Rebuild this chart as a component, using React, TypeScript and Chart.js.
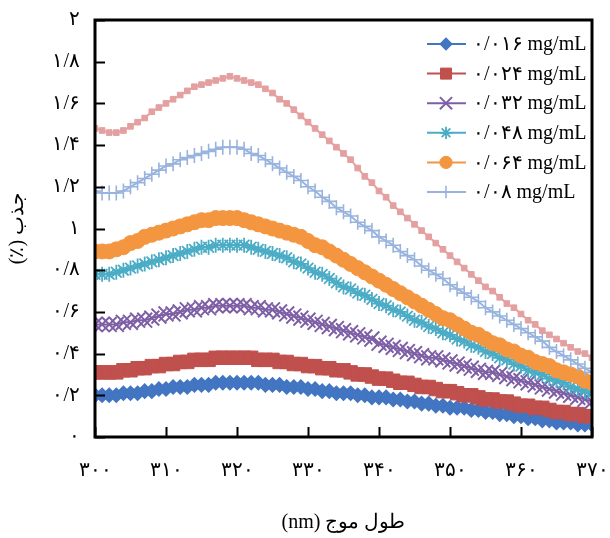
import React, { useEffect, useRef } from 'react';
import { Chart, registerables } from 'chart.js';
import { drawPoint } from 'chart.js/helpers';

Chart.register(...registerables);

const FONT = "'Liberation Serif', 'Times New Roman', 'DejaVu Serif', serif";

// wavelength (nm)
const wavelengths = [
  300, 301, 302, 303, 304, 305, 306, 307, 308, 309,
  310, 311, 312, 313, 314, 315, 316, 317, 318, 319,
  320, 321, 322, 323, 324, 325, 326, 327, 328, 329,
  330, 331, 332, 333, 334, 335, 336, 337, 338, 339,
  340, 341, 342, 343, 344, 345, 346, 347, 348, 349,
  350, 351, 352, 353, 354, 355, 356, 357, 358, 359,
  360, 361, 362, 363, 364, 365, 366, 367, 368, 369,
  370,
];

const abs016 = [
  0.20, 0.20, 0.20, 0.20, 0.21, 0.21, 0.21, 0.22, 0.22, 0.23,
  0.23, 0.24, 0.24, 0.24, 0.25, 0.25, 0.25, 0.26, 0.26, 0.26,
  0.26, 0.26, 0.26, 0.26, 0.25, 0.25, 0.25, 0.24, 0.24, 0.24,
  0.23, 0.23, 0.22, 0.22, 0.21, 0.21, 0.21, 0.20, 0.20, 0.19,
  0.19, 0.19, 0.18, 0.18, 0.17, 0.17, 0.16, 0.16, 0.15, 0.15,
  0.14, 0.14, 0.14, 0.13, 0.13, 0.12, 0.12, 0.11, 0.11, 0.10,
  0.10, 0.09, 0.09, 0.08, 0.08, 0.07, 0.07, 0.07, 0.06, 0.06,
  0.06,
];

const abs024 = [
  0.31, 0.31, 0.31, 0.31, 0.32, 0.32, 0.33, 0.33, 0.34, 0.34,
  0.35, 0.35, 0.36, 0.36, 0.37, 0.37, 0.37, 0.38, 0.38, 0.38,
  0.38, 0.38, 0.38, 0.37, 0.37, 0.37, 0.36, 0.36, 0.35, 0.35,
  0.34, 0.34, 0.33, 0.33, 0.32, 0.32, 0.31, 0.30, 0.30, 0.29,
  0.28, 0.28, 0.27, 0.26, 0.26, 0.25, 0.24, 0.24, 0.23, 0.22,
  0.22, 0.21, 0.20, 0.20, 0.19, 0.18, 0.18, 0.17, 0.17, 0.16,
  0.15, 0.15, 0.14, 0.14, 0.13, 0.12, 0.12, 0.11, 0.11, 0.10,
  0.10,
];

const abs032 = [
  0.54, 0.54, 0.54, 0.54, 0.55, 0.55, 0.56, 0.56, 0.57, 0.58,
  0.59, 0.59, 0.60, 0.61, 0.61, 0.62, 0.62, 0.63, 0.63, 0.63,
  0.63, 0.63, 0.62, 0.62, 0.61, 0.61, 0.60, 0.59, 0.58, 0.57,
  0.56, 0.55, 0.54, 0.53, 0.52, 0.51, 0.50, 0.49, 0.48, 0.47,
  0.45, 0.44, 0.43, 0.42, 0.41, 0.40, 0.39, 0.38, 0.38, 0.37,
  0.36, 0.35, 0.34, 0.33, 0.32, 0.31, 0.31, 0.30, 0.29, 0.28,
  0.27, 0.26, 0.25, 0.24, 0.23, 0.22, 0.21, 0.20, 0.19, 0.18,
  0.17,
];

const abs048 = [
  0.78, 0.78, 0.78, 0.79, 0.80, 0.81, 0.82, 0.83, 0.84, 0.85,
  0.86, 0.87, 0.88, 0.89, 0.90, 0.91, 0.91, 0.92, 0.92, 0.92,
  0.92, 0.92, 0.91, 0.90, 0.89, 0.88, 0.87, 0.86, 0.84, 0.83,
  0.81, 0.79, 0.78, 0.76, 0.74, 0.72, 0.71, 0.69, 0.68, 0.66,
  0.64, 0.63, 0.61, 0.60, 0.58, 0.56, 0.55, 0.53, 0.52, 0.50,
  0.49, 0.47, 0.46, 0.44, 0.43, 0.41, 0.40, 0.38, 0.37, 0.35,
  0.34, 0.32, 0.31, 0.30, 0.28, 0.27, 0.26, 0.24, 0.23, 0.22,
  0.21,
];

const abs064 = [
  0.89, 0.89, 0.89, 0.90, 0.91, 0.93, 0.94, 0.96, 0.97, 0.98,
  0.99, 1.00, 1.01, 1.02, 1.03, 1.04, 1.04, 1.05, 1.05, 1.05,
  1.05, 1.04, 1.03, 1.02, 1.01, 1.00, 0.99, 0.98, 0.97, 0.96,
  0.94, 0.92, 0.91, 0.89, 0.87, 0.85, 0.83, 0.81, 0.79, 0.77,
  0.75, 0.73, 0.71, 0.69, 0.67, 0.65, 0.63, 0.61, 0.59, 0.57,
  0.56, 0.54, 0.52, 0.50, 0.49, 0.47, 0.45, 0.44, 0.42, 0.41,
  0.39, 0.38, 0.36, 0.35, 0.34, 0.32, 0.31, 0.30, 0.29, 0.27,
  0.26,
];

const abs080 = [
  1.18, 1.17, 1.17, 1.17, 1.18, 1.20, 1.22, 1.24, 1.26, 1.28,
  1.30, 1.31, 1.33, 1.34, 1.35, 1.36, 1.37, 1.38, 1.39, 1.39,
  1.39, 1.38, 1.36, 1.35, 1.33, 1.31, 1.29, 1.27, 1.25, 1.23,
  1.20, 1.18, 1.15, 1.13, 1.10, 1.08, 1.06, 1.03, 1.01, 0.99,
  0.96, 0.94, 0.92, 0.89, 0.87, 0.85, 0.82, 0.80, 0.78, 0.76,
  0.73, 0.71, 0.69, 0.67, 0.65, 0.62, 0.60, 0.58, 0.56, 0.54,
  0.52, 0.50, 0.48, 0.46, 0.43, 0.41, 0.39, 0.37, 0.35, 0.33,
  0.31,
];

// unlabeled top curve (not shown in legend)
const absTop = [
  1.48, 1.47, 1.46, 1.46, 1.47, 1.49, 1.51, 1.53, 1.56, 1.58,
  1.60, 1.62, 1.64, 1.66, 1.68, 1.69, 1.70, 1.71, 1.72, 1.73,
  1.72, 1.71, 1.70, 1.69, 1.67, 1.65, 1.62, 1.60, 1.57, 1.54,
  1.51, 1.48, 1.45, 1.42, 1.39, 1.36, 1.33, 1.29, 1.25, 1.22,
  1.18, 1.15, 1.11, 1.08, 1.05, 1.02, 0.99, 0.96, 0.93, 0.90,
  0.87, 0.84, 0.81, 0.78, 0.75, 0.72, 0.70, 0.67, 0.64, 0.62,
  0.59, 0.56, 0.54, 0.51, 0.49, 0.47, 0.45, 0.43, 0.41, 0.40,
  0.38,
];

const seriesLabels = [
  '۰/۰۱۶ mg/mL',
  '۰/۰۲۴ mg/mL',
  '۰/۰۳۲ mg/mL',
  '۰/۰۴۸ mg/mL',
  '۰/۰۶۴ mg/mL',
  '۰/۰۸ mg/mL',
  '۰/۱ mg/mL',
];

const yTickLabels = ['۰', '۰/۲', '۰/۴', '۰/۶', '۰/۸', '۱', '۱/۲', '۱/۴', '۱/۶', '۱/۸', '۲'];
const xTickLabels = ['۳۰۰', '۳۱۰', '۳۲۰', '۳۳۰', '۳۴۰', '۳۵۰', '۳۶۰', '۳۷۰'];

const xTitle = '(nm) طول موج';
const yTitle = '(٪) جذب';

const LEGEND_COUNT = 6;

const framePlugin = {
  id: 'frameLegend',
  afterDatasetsDraw(chart: any) {
    const { ctx, chartArea: a, scales } = chart;
    ctx.save();
    ctx.strokeStyle = '#000';
    ctx.lineWidth = 2;
    ctx.beginPath();
    scales.y.ticks.forEach((t: any) => {
      const py = Math.round(scales.y.getPixelForValue(t.value)) + 0.5;
      ctx.moveTo(a.left, py);
      ctx.lineTo(a.left + 10, py);
    });
    scales.x.ticks.forEach((t: any) => {
      const px = Math.round(scales.x.getPixelForValue(t.value)) + 0.5;
      ctx.moveTo(px, a.bottom);
      ctx.lineTo(px, a.bottom - 10);
    });
    ctx.stroke();
    ctx.lineWidth = 3;
    ctx.strokeRect(a.left, a.top, a.right - a.left, a.bottom - a.top);

    // legend
    const datasets = chart.data.datasets;
    for (let i = 0; i < LEGEND_COUNT; i++) {
      const ds = datasets[i];
      const y = 44 + i * 29.6;
      ctx.strokeStyle = ds.borderColor;
      ctx.fillStyle = ds.borderColor;
      ctx.lineWidth = 2;
      ctx.beginPath();
      ctx.moveTo(427, y);
      ctx.lineTo(466, y);
      ctx.stroke();
      ctx.lineWidth = ds.pointBorderWidth;
      drawPoint(ctx, {
        pointStyle: ds.pointStyle,
        radius: ds.pointRadius * 0.82,
        borderWidth: ds.pointBorderWidth,
        rotation: 0,
      } as any, 446, y);
      ctx.fillStyle = '#000';
      ctx.font = `20px ${FONT}`;
      ctx.textAlign = 'left';
      ctx.textBaseline = 'middle';
      ctx.fillText(seriesLabels[i], 473, y + 1);
    }
    ctx.restore();
  },
};

function makeSet(idx: number, values: number[], color: string, style: string, radius: number, bw: number) {
  return {
    label: seriesLabels[idx],
    data: wavelengths.map((x, i) => ({ x, y: values[i] })),
    borderColor: color,
    backgroundColor: color,
    pointBackgroundColor: color,
    pointBorderColor: color,
    pointStyle: style,
    pointRadius: radius,
    pointHoverRadius: radius,
    pointBorderWidth: bw,
    borderWidth: 2,
    tension: 0,
    clip: 0,
    order: 10 - idx,
  };
}

export default function App() {
  const ref = useRef<HTMLCanvasElement>(null);
  useEffect(() => {
    const chart = new Chart(ref.current as HTMLCanvasElement, {
      type: 'line',
      data: {
        datasets: [
          makeSet(0, abs016, '#4275C2', 'rectRot', 7, 1.5),
          makeSet(1, abs024, '#C0504D', 'rect', 9.5, 1),
          makeSet(2, abs032, '#7E5FA6', 'crossRot', 10.5, 2),
          makeSet(3, abs048, '#4BACC6', 'star', 7.5, 1.8),
          makeSet(4, abs064, '#F49640', 'circle', 7.5, 1),
          makeSet(5, abs080, '#98B4DE', 'cross', 7.5, 1.6),
          makeSet(6, absTop, '#E4A0A0', 'rect', 4, 1),
        ] as any,
      },
      options: {
        responsive: false,
        animation: false,
        devicePixelRatio: 1,
        layout: { padding: { top: 20, right: 18, left: 0, bottom: 0 } },
        plugins: {
          legend: { display: false },
          tooltip: { enabled: false },
        },
        scales: {
          x: {
            type: 'linear',
            min: 300,
            max: 370,
            grid: { display: false, drawTicks: false },
            border: { display: false },
            ticks: {
              stepSize: 10,
              padding: 22,
              color: '#000',
              font: { family: FONT, size: 20 },
              maxRotation: 0,
              callback: (v: any) => xTickLabels[Math.round((Number(v) - 300) / 10)],
            },
            title: {
              display: true,
              text: xTitle,
              color: '#000',
              font: { family: FONT, size: 20 },
              padding: { top: 0, bottom: 3 },
            },
            afterFit: (s: any) => {
              s.height = 101;
              s.paddingLeft = 0;
              s.paddingRight = 0;
            },
          },
          y: {
            type: 'linear',
            min: 0,
            max: 2,
            grid: { display: false, drawTicks: false },
            border: { display: false },
            ticks: {
              stepSize: 0.2,
              padding: 15,
              color: '#000',
              font: { family: FONT, size: 20 },
              callback: (v: any) => yTickLabels[Math.round(Number(v) * 5)],
            },
            title: {
              display: true,
              text: yTitle,
              color: '#000',
              font: { family: FONT, size: 20 },
              padding: { top: 6, bottom: 0 },
            },
            afterFit: (s: any) => {
              s.width = 95;
              s.paddingTop = 0;
              s.paddingBottom = 0;
            },
          },
        },
      },
      plugins: [framePlugin],
    });
    return () => chart.destroy();
  }, []);
  return (
    <div style={{ position: 'absolute', left: 0, top: 0, width: 610, height: 538, background: '#fff' }}>
      <canvas ref={ref} width={610} height={538} style={{ display: 'block', width: 610, height: 538 }} />
    </div>
  );
}
